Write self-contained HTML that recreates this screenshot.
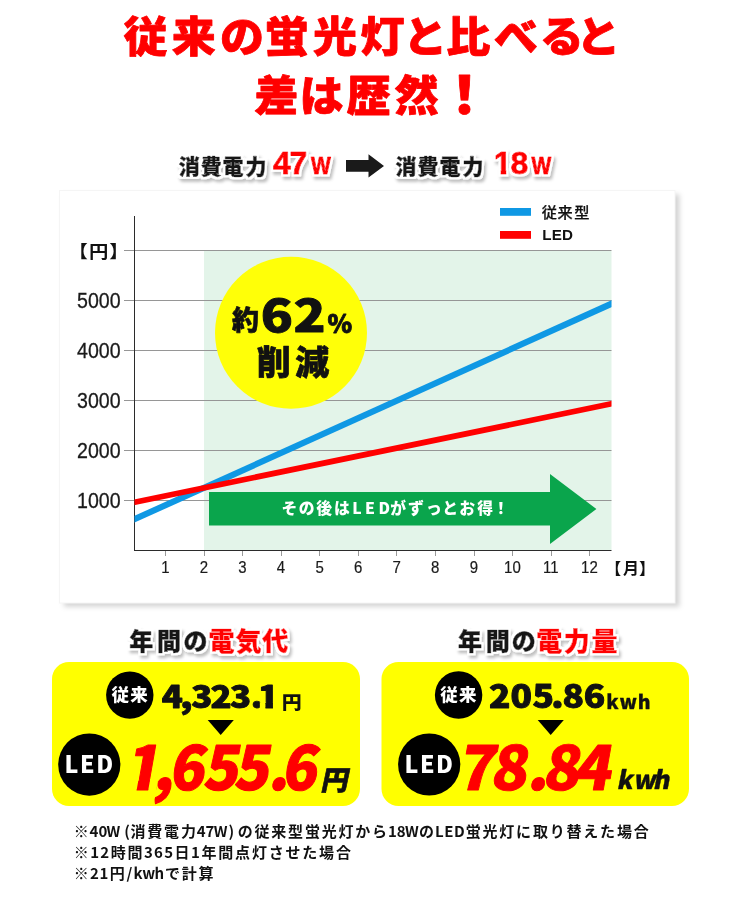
<!DOCTYPE html>
<html lang="ja">
<head>
<meta charset="utf-8">
<title>従来の蛍光灯と比べると差は歴然！</title>
<style>
html,body{margin:0;padding:0;background:#fff;}
body{width:740px;height:909px;overflow:hidden;position:relative;}
svg{display:block;position:absolute;left:0;top:0;}
text{font-family:"Noto Sans CJK JP","Liberation Sans",sans-serif;}
.ax text,text.ax{font-family:"Liberation Sans","Noto Sans CJK JP",sans-serif;}
</style>
</head>
<body>
<svg width="740" height="909" viewBox="0 0 740 909">
<defs>
<filter id="sh" x="-10%" y="-30%" width="120%" height="170%">
<feMorphology in="SourceAlpha" operator="dilate" radius="1.600" result="fat"/>
<feGaussianBlur in="fat" stdDeviation="0.400" result="fat2"/>
<feOffset in="fat2" dx="1.500" dy="2.500" result="off"/>
<feGaussianBlur in="off" stdDeviation="1.400" result="blur"/>
<feFlood flood-color="#000" flood-opacity="0.250"/>
<feComposite in2="blur" operator="in" result="shadow"/>
<feFlood flood-color="#fff"/>
<feComposite in2="fat2" operator="in" result="outline"/>
<feMerge><feMergeNode in="shadow"/><feMergeNode in="outline"/><feMergeNode in="SourceGraphic"/></feMerge>
</filter>
<filter id="cardsh" x="-5%" y="-5%" width="110%" height="110%">
<feDropShadow dx="4.500" dy="3.800" stdDeviation="2.600" flood-color="#000" flood-opacity="0.170"/>
</filter>
<clipPath id="plot"><rect x="134.500" y="200" width="477" height="351"/></clipPath>
</defs>

<!-- heading -->
<text x="123.5 171.8 220.0 264.7 313.0 360.4 403.2 446.2 493.9 539.8 576.3" y="0" font-size="44" font-weight="900" fill="#ff0000" id="h1" transform="translate(0 51.6) scale(1.0 0.95)" stroke="#ff0000" stroke-width="0.8" stroke-linejoin="round">従来の蛍光灯と比べると</text>
<text x="254.6 299.5 346.8 394.6 442.4" y="0" font-size="44" font-weight="900" fill="#ff0000" id="h2" transform="translate(0 111) scale(1.0 0.95)" stroke="#ff0000" stroke-width="0.8" stroke-linejoin="round">差は歴然<tspan font-size="55" dx="-5.500" dy="3">！</tspan></text>
<!-- sub heading -->
<g filter="url(#sh)">
<text x="178.7 200.8 222.6 245.6" y="174" font-size="21" font-weight="900" fill="#161616" id="s1" stroke="#161616" stroke-width="0.6" stroke-linejoin="round">消費電力</text>
<text class="ax" x="272.9 289.6" y="174.3" font-size="32" font-weight="700" fill="#ff0000" id="s2" stroke="#ff0000" stroke-width="0.9" stroke-linejoin="round">47</text>
<text class="ax" x="357.5" y="0" font-size="24" font-weight="700" fill="#ff0000" id="s3" transform="translate(0 174.3) scale(0.87 1.0)" stroke="#ff0000" stroke-width="1.1" stroke-linejoin="round">W</text>
<text x="395.5 417.6 439.4 462.4" y="174" font-size="21" font-weight="900" fill="#161616" id="s4" stroke="#161616" stroke-width="0.6" stroke-linejoin="round">消費電力</text>
<clipPath id="ft1"><rect x="-100" y="-48.0" width="1200" height="43.0"/><rect x="500.6" y="-5.6" width="5.7" height="6.9"/><rect x="511.5" y="-5.6" width="1000" height="19.2"/></clipPath>
<text class="ax" x="493.8 510.4" y="0" font-size="32" font-weight="700" fill="#ff0000" id="s5" transform="translate(0 174.3) scale(1.0 1.0)" stroke="#ff0000" stroke-width="0.9" stroke-linejoin="round" clip-path="url(#ft1)">18</text>
<text class="ax" x="611.0" y="0" font-size="24" font-weight="700" fill="#ff0000" id="s6" transform="translate(0 174.3) scale(0.87 1.0)" stroke="#ff0000" stroke-width="1.1" stroke-linejoin="round">W</text>
</g>
<path id="arr" d="M346 160H368.500V154.200L384 166 368.500 177.400V171.800H346z" fill="#1a1a1a"/>
<!-- chart card -->
<rect x="59.500" y="190.500" width="615.500" height="412.500" fill="#fff" filter="url(#cardsh)"/>
<rect x="59.500" y="190.500" width="615.500" height="412.500" fill="#fff" stroke="#f5f5f5" stroke-width="1"/>
<rect x="204" y="251" width="407.500" height="299" fill="#e3f4e9"/>
<g stroke="#969696" stroke-width="1">
<line x1="124" y1="250.5" x2="611.500" y2="250.5"/>
<line x1="124" y1="300.5" x2="611.500" y2="300.5"/>
<line x1="124" y1="350.5" x2="611.500" y2="350.5"/>
<line x1="124" y1="400.5" x2="611.500" y2="400.5"/>
<line x1="124" y1="450.5" x2="611.500" y2="450.5"/>
<line x1="124" y1="500.5" x2="611.500" y2="500.5"/>
</g>
<g stroke="#999" stroke-width="1">
<line x1="165.5" y1="550" x2="165.5" y2="556"/>
<line x1="204.5" y1="550" x2="204.5" y2="556"/>
<line x1="242.5" y1="550" x2="242.5" y2="556"/>
<line x1="281.5" y1="550" x2="281.5" y2="556"/>
<line x1="319.5" y1="550" x2="319.5" y2="556"/>
<line x1="358.5" y1="550" x2="358.5" y2="556"/>
<line x1="396.5" y1="550" x2="396.5" y2="556"/>
<line x1="435.5" y1="550" x2="435.5" y2="556"/>
<line x1="474.5" y1="550" x2="474.5" y2="556"/>
<line x1="512.5" y1="550" x2="512.5" y2="556"/>
<line x1="551.5" y1="550" x2="551.5" y2="556"/>
<line x1="589.5" y1="550" x2="589.5" y2="556"/>
</g>
<g stroke="#2b2b2b" stroke-width="1">
<line x1="134.500" y1="216" x2="134.500" y2="551"/>
<line x1="134" y1="550.500" x2="611.500" y2="550.500"/>
</g>
<g clip-path="url(#plot)">
<line x1="124.500" y1="523.700" x2="621.500" y2="299.200" stroke="#0f98e4" stroke-width="6.200"/>
<line x1="124.500" y1="504.300" x2="621.500" y2="401.700" stroke="#ff0000" stroke-width="5.800"/>
</g>
<path id="garr" d="M209 492H550V474L596.400 509 550 544V525.500H209z" fill="#0aa54c"/>

<text x="281.6 298.8 316.2 334.0 352.2 365.1 378.4 390.2 408.1 426.0 442.2 459.2 477.3 493.1" y="514.3" font-size="15.8" font-weight="900" fill="#fff" id="ar">その後はLEDがずっとお得！</text>
<circle cx="291" cy="332.800" r="76" fill="#ffff08"/>
<text x="232.0" y="330" font-size="27" font-weight="900" fill="#111" id="c1" stroke="#111" stroke-width="0.6" stroke-linejoin="round">約</text>
<text x="217.3 244.7" y="0" font-size="44" font-weight="900" fill="#111" id="c2" transform="translate(0 331.8) scale(1.2 1.0)" stroke="#111" stroke-width="0.9" stroke-linejoin="round">62</text>
<text x="327.5" y="332.5" font-size="25" font-weight="900" fill="#111" id="c3" stroke="#111" stroke-width="0.8" stroke-linejoin="round">%</text>
<text x="256.7 295.2" y="375" font-size="34" font-weight="900" fill="#111" id="c4" stroke="#111" stroke-width="0.7" stroke-linejoin="round">削減</text>
<rect x="500" y="208" width="31" height="7.800" fill="#0f98e4"/>
<rect x="500" y="231" width="31" height="7.800" fill="#ff0000"/>

<text x="541.7 557.4 574.2" y="217.8" font-size="15.2" font-weight="500" fill="#111" id="l1" stroke="#111" stroke-width="0.25" stroke-linejoin="round">従来型</text>
<text class="ax" x="542.300" y="239.500" font-size="15.200" font-weight="700" fill="#111" id="l2" letter-spacing="0.100">LED</text>
<g class="ax" font-size="21.400" text-anchor="end" fill="#1a1a1a" stroke="#1a1a1a" stroke-width="0.300">
<text x="0" y="0" transform="translate(120.600 307.8) scale(0.915 1)" id="y0">5000</text>
<text x="0" y="0" transform="translate(120.600 357.8) scale(0.915 1)" id="y1">4000</text>
<text x="0" y="0" transform="translate(120.600 407.8) scale(0.915 1)" id="y2">3000</text>
<text x="0" y="0" transform="translate(120.600 457.8) scale(0.915 1)" id="y3">2000</text>
<text x="0" y="0" transform="translate(120.600 507.8) scale(0.915 1)" id="y4">1000</text>
</g>
<text x="61.2 79.4 97.6" y="0" font-size="17.3" font-weight="700" fill="#111" id="yen" transform="translate(0 257.6) scale(1.12 1.0)">【円】</text>
<text x="605.2 623.0 638.9" y="573.9" font-size="16" font-weight="700" fill="#111" id="tsuki">【月】</text>
<g class="ax" font-size="16.300" text-anchor="middle" id="xl" fill="#1a1a1a" stroke="#1a1a1a" stroke-width="0.200">
<text x="0" y="0" transform="translate(165.4 573) scale(0.920 1)">1</text>
<text x="0" y="0" transform="translate(203.9 573) scale(0.920 1)">2</text>
<text x="0" y="0" transform="translate(242.5 573) scale(0.920 1)">3</text>
<text x="0" y="0" transform="translate(281.0 573) scale(0.920 1)">4</text>
<text x="0" y="0" transform="translate(319.6 573) scale(0.920 1)">5</text>
<text x="0" y="0" transform="translate(358.1 573) scale(0.920 1)">6</text>
<text x="0" y="0" transform="translate(396.7 573) scale(0.920 1)">7</text>
<text x="0" y="0" transform="translate(435.2 573) scale(0.920 1)">8</text>
<text x="0" y="0" transform="translate(473.8 573) scale(0.920 1)">9</text>
<text x="0" y="0" transform="translate(512.4 573) scale(0.920 1)">10</text>
<text x="0" y="0" transform="translate(550.9 573) scale(0.920 1)">11</text>
<text x="0" y="0" transform="translate(589.4 573) scale(0.920 1)">12</text>
</g>
<!-- bottom titles -->
<g filter="url(#sh)">
<text x="129.3 157.1 183.4" y="650" font-size="24" font-weight="900" fill="#161616" id="t1" stroke="#161616" stroke-width="0.6" stroke-linejoin="round">年間の</text>
<text x="208.5 235.6 262.3" y="650.5" font-size="26" font-weight="900" fill="#ff0000" id="t2" stroke="#ff0000" stroke-width="0.5" stroke-linejoin="round">電気代</text>
<text x="458.0 485.8 511.8" y="650" font-size="24" font-weight="900" fill="#161616" id="t3" stroke="#161616" stroke-width="0.6" stroke-linejoin="round">年間の</text>
<text x="536.3 563.7 591.5" y="650.5" font-size="26" font-weight="900" fill="#ff0000" id="t4" stroke="#ff0000" stroke-width="0.5" stroke-linejoin="round">電力量</text>
</g>
<!-- left panel -->
<rect x="52" y="662" width="308" height="144" rx="17" fill="#ffff00"/>
<circle cx="129.800" cy="695.100" r="23.700" fill="#000"/>
<text x="111.6 130.3" y="700.9" font-size="17.5" font-weight="900" fill="#fff" id="p1">従来</text>
<clipPath id="ft2"><rect x="-100" y="-46.5" width="1200" height="40.8"/><rect x="237.0" y="-6.4" width="6.7" height="7.6"/><rect x="-100" y="-6.4" width="332.0" height="18.6"/></clipPath>
<text x="144.4 161.0 170.7 187.9 205.3 223.8 230.4" y="0" font-size="31" font-weight="900" fill="#111" id="p2" transform="translate(0 708) scale(1.12 1.0)" stroke="#111" stroke-width="0.9" stroke-linejoin="round" clip-path="url(#ft2)">4,323.1</text>
<text x="260.8" y="0" font-size="18.5" font-weight="900" fill="#111" id="p3" transform="translate(0 709) scale(1.08 1.0)">円</text>
<path d="M207.700 720H233.800L220.700 735z" fill="#000"/>
<circle cx="89.300" cy="764.600" r="31.100" fill="#000"/>

<text x="64.6 80.0 96.2" y="773" font-size="23.2" font-weight="900" fill="#fff" id="p4">LED</text>
<clipPath id="ft3"><rect x="-100" y="-90.8" width="1200" height="79.6"/><rect x="142.3" y="-12.4" width="12.1" height="14.8"/><rect x="162.8" y="-12.4" width="1000" height="36.3"/></clipPath>
<text x="128.9 159.1 175.3 210.7 242.8 278.9 292.4" y="0" font-size="60.5" font-weight="900" fill="#ff0000" id="p5" transform="translate(0 790.3) skewX(-10) scale(0.96 1.0)" stroke="#ff0000" stroke-width="1.0" stroke-linejoin="round" clip-path="url(#ft3)">1,655.6</text>
<text x="0" y="0" font-size="27" font-weight="900" fill="#111" stroke="#111" stroke-width="0.700" transform="translate(320.200 789.700) skewX(-12)" id="p6">円</text>
<!-- right panel -->
<rect x="381.500" y="662" width="307.500" height="144" rx="17" fill="#ffff00"/>
<circle cx="458.600" cy="695" r="23.700" fill="#000"/>
<text x="440.3 459.0" y="700.8" font-size="17.5" font-weight="900" fill="#fff" id="q1">従来</text>
<text x="436.6 455.9 475.4 492.3 502.2 521.2" y="0" font-size="31.5" font-weight="900" fill="#111" id="q2" transform="translate(0 708) scale(1.12 1.0)" stroke="#111" stroke-width="0.9" stroke-linejoin="round">205.86</text>
<text x="606.3 619.6 637.8" y="708.8" font-size="19.5" font-weight="900" fill="#111" id="q3" stroke="#111" stroke-width="0.3" stroke-linejoin="round">kwh</text>
<path d="M537.700 720H563.800L550.700 735z" fill="#000"/>
<circle cx="429.200" cy="764.500" r="31.100" fill="#000"/>

<text x="404.5 419.9 436.1" y="773" font-size="23.2" font-weight="900" fill="#fff" id="q4">LED</text>
<text x="456.7 489.4 526.6 541.7 572.9" y="0" font-size="60.5" font-weight="900" fill="#ff0000" id="q5" transform="translate(0 789.8) skewX(-10) scale(1.0 1.0)" stroke="#ff0000" stroke-width="0.9" stroke-linejoin="round">78.84</text>
<text x="616.4 633.0 652.7" y="0" font-size="25" font-weight="900" fill="#111" id="q6" transform="translate(0 789.4) skewX(-11) scale(1.0 1.0)" stroke="#111" stroke-width="0.4" stroke-linejoin="round">kwh</text>
<!-- notes -->
<g font-size="15" font-weight="700" fill="#111">
<text x="73.7 89.6 98.4 106.5 124.3 130.5 147.3 164.1 180.9 196.8 205.6 213.7 228.5 237.7 254.5 271.3 288.1 304.9 321.7 338.5 355.3 372.1 388.0 396.8 404.9 418.9 435.0 444.2 453.9 465.7 482.5 499.3 516.1 532.9 549.7 566.5 583.3 600.1 616.9 633.7" y="837" id="n1">※40W(消費電力47W)の従来型蛍光灯から18WのLED蛍光灯に取り替えた場合</text>
<text x="73.7 90.2 100.3 110.7 127.5 144.0 154.1 164.2 174.6 191.1 201.5 218.3 235.1 251.9 268.7 285.5 302.3 319.1 335.9" y="858.2" id="n2">※12時間365日1年間点灯させた場合</text>
<text x="73.7 90.0 99.6 109.7 126.5 133.5 142.2 154.4 164.9 181.7 198.5" y="879" id="n3">※21円/kwhで計算</text>
</g>
</svg>
</body>
</html>
